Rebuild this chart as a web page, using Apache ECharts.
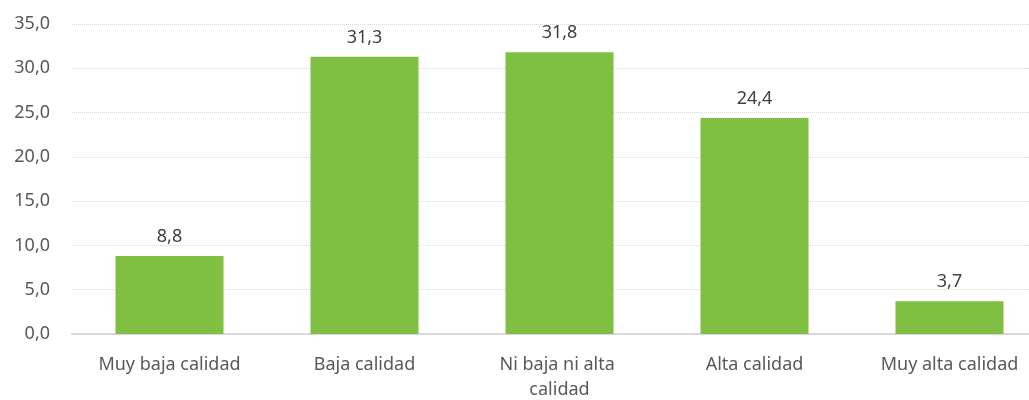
<!DOCTYPE html>
<html>
<head>
<meta charset="utf-8">
<script src="https://cdn.jsdelivr.net/npm/echarts@6/dist/echarts.min.js"></script>
<style>
  html, body { margin: 0; padding: 0; background: #fff; overflow: hidden; }
  #chart { width: 1047px; height: 400px; }
</style>
</head>
<body>
<div id="chart"></div>
<script>
var categories = ['Muy baja calidad', 'Baja calidad', 'Ni baja ni alta calidad', 'Alta calidad', 'Muy alta calidad'];
var values = [8.8, 31.3, 31.8, 24.4, 3.7];
var yMin = 0, yMax = 35, yStep = 5;

function comma(v) {
    return Number(v).toFixed(1).replace('.', ',');
}

var myChart = echarts.init(document.getElementById('chart'));
var option = {
    animation: false,
    textStyle: { fontFamily: 'Noto Sans' },
    grid: {
        left: 72,
        right: 0,
        top: 24,
        bottom: 66,
        outerBoundsMode: 'none'
    },
    xAxis: {
        type: 'category',
        data: categories,
        axisLine: { lineStyle: { color: '#d9d9d9', width: 2 } },
        axisTick: { show: false },
        axisLabel: {
            interval: 0,
            margin: 18,
            color: '#595959',
            fontSize: 18,
            lineHeight: 25,
            width: 170,
            overflow: 'break'
        }
    },
    yAxis: {
        type: 'value',
        min: yMin,
        max: yMax,
        interval: yStep,
        axisLine: { show: false },
        axisTick: { show: false },
        axisLabel: {
            margin: 22,
            color: '#595959',
            fontSize: 18,
            formatter: comma
        },
        splitLine: { lineStyle: { color: '#d9d9d9', type: 'dotted', width: 1 } }
    },
    series: [
        {
            type: 'bar',
            data: values,
            barCategoryGap: '44.6%',
            itemStyle: { color: '#7fbf41' },
            label: {
                show: true,
                position: 'top',
                distance: 10,
                color: '#404040',
                fontSize: 18,
                formatter: function (p) { return comma(p.value); }
            }
        }
    ]
};
myChart.setOption(option, true);
</script>
</body>
</html>
